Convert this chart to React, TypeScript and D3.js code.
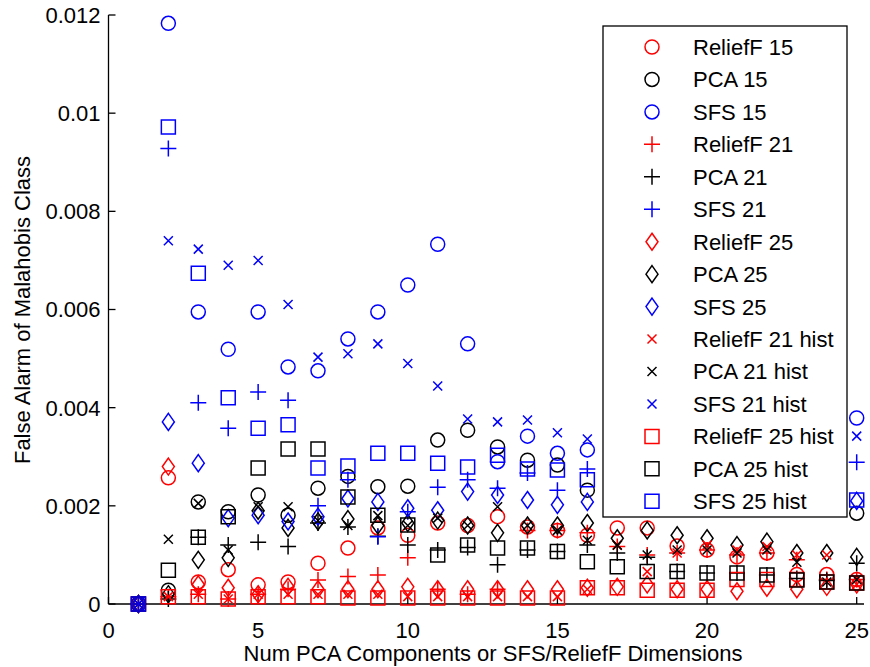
import React from "react";
import * as d3 from "d3";

const dims = [1, 2, 3, 4, 5, 6, 7, 8, 9, 10, 11, 12, 13, 14, 15, 16, 17, 18, 19, 20, 21, 22, 23, 24, 25];

const reliefF15 = [0, 0.00257, 0.00045, 0.0007, 0.00039, 0.00045, 0.00083, 0.00114, 0.00155, 0.0014, 0.00165, 0.0016, 0.00178, 0.00157, 0.0015, 0.0014, 0.00155, 0.00155, 0.00118, 0.0011, 0.00096, 0.00104, 0.0006, 0.0006, 0.0005];
const pca15 = [0, 0.00028, 0.00208, 0.00188, 0.00222, 0.00181, 0.00236, 0.0026, 0.00239, 0.0024, 0.00334, 0.00354, 0.0032, 0.00293, 0.00283, 0.00232, null, null, null, null, null, null, null, null, 0.00185];
const sfs15 = [0, 0.01183, 0.00595, 0.00519, 0.00595, 0.00483, 0.00475, 0.0054, 0.00595, 0.0065, 0.00733, 0.0053, 0.0029, 0.00342, 0.00307, 0.00314, null, null, null, null, null, null, null, null, 0.00379];
const reliefF21 = [0, 0.00015, 0.0002, 0.0001, 0.0002, 0.0003, 0.00049, 0.00056, 0.00059, 0.00094, 0.0003, 0.0002, 0.0003, 0.0015, 0.0015, 0.00145, 0.00117, 0.001, 0.00104, 0.0011, 0.001, 0.00104, 0.0009, 0.0005, 0.0005];
const pca21 = [0, 0.0001, 0.00136, 0.0012, 0.00126, 0.00117, 0.00165, 0.00157, 0.00138, 0.0012, 0.0011, 0.00115, 0.0008, 0.0011, 0.00107, 0.0012, 0.00104, 0.00095, 0.00066, 0.00063, 0.00063, 0.00059, 0.00052, 0.00048, 0.00083];
const sfs21 = [0, 0.00928, 0.0041, 0.00358, 0.00432, 0.00415, 0.002, 0.00253, 0.00137, 0.00188, 0.00238, 0.00253, 0.00236, 0.00267, 0.00232, 0.00275, null, null, null, null, null, null, null, null, 0.00289];
const reliefF25 = [0, 0.0028, 0.0004, 0.00033, 0.0002, 0.00035, 0.0003, 0.0003, 0.0003, 0.00035, 0.0003, 0.0003, 0.0003, 0.0003, 0.0003, 0.00033, 0.00035, 0.0004, 0.0003, 0.0003, 0.00026, 0.00033, 0.0003, 0.00035, 0.0004];
const pca25 = [0, 0.0002, 0.0009, 0.00094, 0.0019, 0.00155, 0.00168, 0.00173, 0.0016, 0.00165, 0.0017, 0.0016, 0.00145, 0.0016, 0.0016, 0.00165, 0.00134, 0.0015, 0.0014, 0.00134, 0.0012, 0.00127, 0.00104, 0.00104, 0.00096];
const sfs25 = [0, 0.00371, 0.00287, 0.00175, 0.00181, 0.00168, 0.00178, 0.00215, 0.00208, 0.00195, 0.00191, 0.00229, 0.00222, 0.00212, 0.00202, 0.00208, null, null, null, null, null, null, null, null, 0.0021];
const reliefF21hist = [0, 0.00015, 0.0002, 0.0001, 0.0002, 0.0002, 0.0002, 0.0002, 0.0002, 0.00015, 0.00015, 0.00015, 0.00015, 0.00015, 0.00015, 0.0003, 0.0012, 0.00066, 0.00104, 0.0012, 0.0011, 0.00117, 0.001, 0.001, 0.0004];
const pca21hist = [0, 0.00132, 0.00205, 0.0011, 0.00198, 0.00198, 0.0017, 0.0016, 0.0018, 0.0016, 0.00175, 0.0016, 0.00198, 0.0016, 0.0015, 0.0013, 0.0012, 0.001, 0.0011, 0.0011, 0.00104, 0.0011, 0.00085, 0.00045, 0.0005];
const sfs21hist = [0, 0.0074, 0.00723, 0.0069, 0.007, 0.0061, 0.00503, 0.0051, 0.0053, 0.0049, 0.00444, 0.00377, 0.00371, 0.00375, 0.00349, 0.00336, null, null, null, null, null, null, null, null, 0.00342];
const reliefF25hist = [0, 0.00015, 0.00015, 0.0001, 0.00015, 0.00015, 0.00015, 0.00012, 0.00012, 0.00012, 0.00012, 0.00012, 0.00012, 0.00012, 0.00012, 0.00033, 0.00033, 0.00028, 0.00028, 0.00028, 0.0005, 0.0005, 0.0005, 0.00045, 0.00043];
const pca25hist = [0, 0.00069, 0.00136, 0.00178, 0.00277, 0.00316, 0.00316, 0.00218, 0.00181, 0.00161, 0.001, 0.0012, 0.00114, 0.00114, 0.00107, 0.00086, 0.00076, 0.00066, 0.00066, 0.00063, 0.00063, 0.00059, 0.00049, 0.00045, 0.00043];
const sfs25hist = [0, 0.00972, 0.00674, 0.0042, 0.00358, 0.00365, 0.00277, 0.00281, 0.00307, 0.00307, 0.00287, 0.00279, 0.00303, 0.00275, 0.00273, 0.00253, null, null, null, null, null, null, null, null, 0.00212];

const seriesNames = [
  "ReliefF 15", "PCA 15", "SFS 15",
  "ReliefF 21", "PCA 21", "SFS 21",
  "ReliefF 25", "PCA 25", "SFS 25",
  "ReliefF 21 hist", "PCA 21 hist", "SFS 21 hist",
  "ReliefF 25 hist", "PCA 25 hist", "SFS 25 hist",
];
const seriesValues = [
  reliefF15, pca15, sfs15,
  reliefF21, pca21, sfs21,
  reliefF25, pca25, sfs25,
  reliefF21hist, pca21hist, sfs21hist,
  reliefF25hist, pca25hist, sfs25hist,
];
const seriesColors = ["#ff0000", "#000000", "#0000ff"];
const seriesMarkers = ["circle", "plus", "diamond", "x", "square"];

const xTicks = [0, 5, 10, 15, 20, 25];
const yTicks = [0, 0.002, 0.004, 0.006, 0.008, 0.01, 0.012];
const yTickLabels = ["0", "0.002", "0.004", "0.006", "0.008", "0.01", "0.012"];

const W = 870;
const H = 667;
const FONT = "'Liberation Sans', Arial, Helvetica, sans-serif";

function markerPath(type: string, cx: number, cy: number): string {
  const p = d3.path();
  if (type === "circle") {
    p.moveTo(cx + 7, cy);
    p.arc(cx, cy, 7, 0, Math.PI * 2);
  } else if (type === "plus") {
    p.moveTo(cx - 8, cy);
    p.lineTo(cx + 8, cy);
    p.moveTo(cx, cy - 8);
    p.lineTo(cx, cy + 8);
  } else if (type === "x") {
    const a = 4.5;
    p.moveTo(cx - a, cy - a);
    p.lineTo(cx + a, cy + a);
    p.moveTo(cx - a, cy + a);
    p.lineTo(cx + a, cy - a);
  } else if (type === "square") {
    p.rect(cx - 7, cy - 7, 14, 14);
  } else if (type === "diamond") {
    p.moveTo(cx, cy - 8.5);
    p.lineTo(cx + 6, cy);
    p.lineTo(cx, cy + 8.5);
    p.lineTo(cx - 6, cy);
    p.closePath();
  }
  return p.toString();
}

export default function App() {
  const x = d3.scaleLinear().domain([0, 25]).range([108.5, 856.7]);
  const y = d3.scaleLinear().domain([0, 0.012]).range([604, 15]);
  const xEnd = 864;

  const legendX = 603;
  const legendY = 26;
  const legendW = 244;
  const legendH = 491;
  const rowY0 = 47;
  const rowStep = 32.45;

  return (
    <svg
      width={W}
      height={H}
      viewBox={`0 0 ${W} ${H}`}
      style={{ position: "absolute", left: 0, top: 0, background: "#fff" }}
      fontFamily={FONT}
    >
      <rect x={0} y={0} width={W} height={H} fill="#fff" />
      {/* axes */}
      <g stroke="#000" strokeWidth={1.3} fill="none">
        <line x1={x(0)} y1={y(0.012)} x2={x(0)} y2={y(0)} />
        <line x1={x(0)} y1={y(0)} x2={xEnd} y2={y(0)} />
        {yTicks.map((t) => (
          <line key={"yt" + t} x1={x(0)} y1={y(t)} x2={x(0) + 7} y2={y(t)} />
        ))}
        {xTicks.map((t) => (
          <line key={"xt" + t} x1={x(t)} y1={y(0)} x2={x(t)} y2={y(0) - 7} />
        ))}
      </g>
      <g fontSize={22} fill="#000">
        {yTicks.map((t, i) => (
          <text key={"yl" + t} x={x(0) - 8} y={y(t)} dy="0.36em" textAnchor="end">
            {yTickLabels[i]}
          </text>
        ))}
        {xTicks.map((t) => (
          <text key={"xl" + t} x={x(t)} y={y(0) + 34} textAnchor="middle">
            {t}
          </text>
        ))}
        <text x={493} y={661} textAnchor="middle">
          Num PCA Components or SFS/ReliefF Dimensions
        </text>
        <text transform={`translate(30, 310) rotate(-90)`} textAnchor="middle">
          False Alarm of Malahobis Class
        </text>
      </g>
      {/* data */}
      <g fill="none" strokeWidth={1.5}>
        {seriesValues.map((vals, si) => {
          const color = seriesColors[si % 3];
          const mk = seriesMarkers[Math.floor(si / 3)];
          return (
            <g key={"s" + si} stroke={color}>
              {vals.map((v, i) =>
                v === null ? null : (
                  <path key={i} d={markerPath(mk, x(dims[i]), y(v))} />
                )
              )}
            </g>
          );
        })}
      </g>
      {/* legend */}
      <g>
        <rect x={legendX} y={legendY} width={legendW} height={legendH} fill="#fff" stroke="#000" strokeWidth={1.3} />
        {seriesNames.map((name, si) => {
          const color = seriesColors[si % 3];
          const mk = seriesMarkers[Math.floor(si / 3)];
          const ry = rowY0 + rowStep * si;
          return (
            <g key={"l" + si}>
              <path d={markerPath(mk, 652, ry)} stroke={color} fill="none" strokeWidth={1.5} />
              <text x={693} y={ry} dy="0.36em" fontSize={22} fill="#000">
                {name}
              </text>
            </g>
          );
        })}
      </g>
    </svg>
  );
}
